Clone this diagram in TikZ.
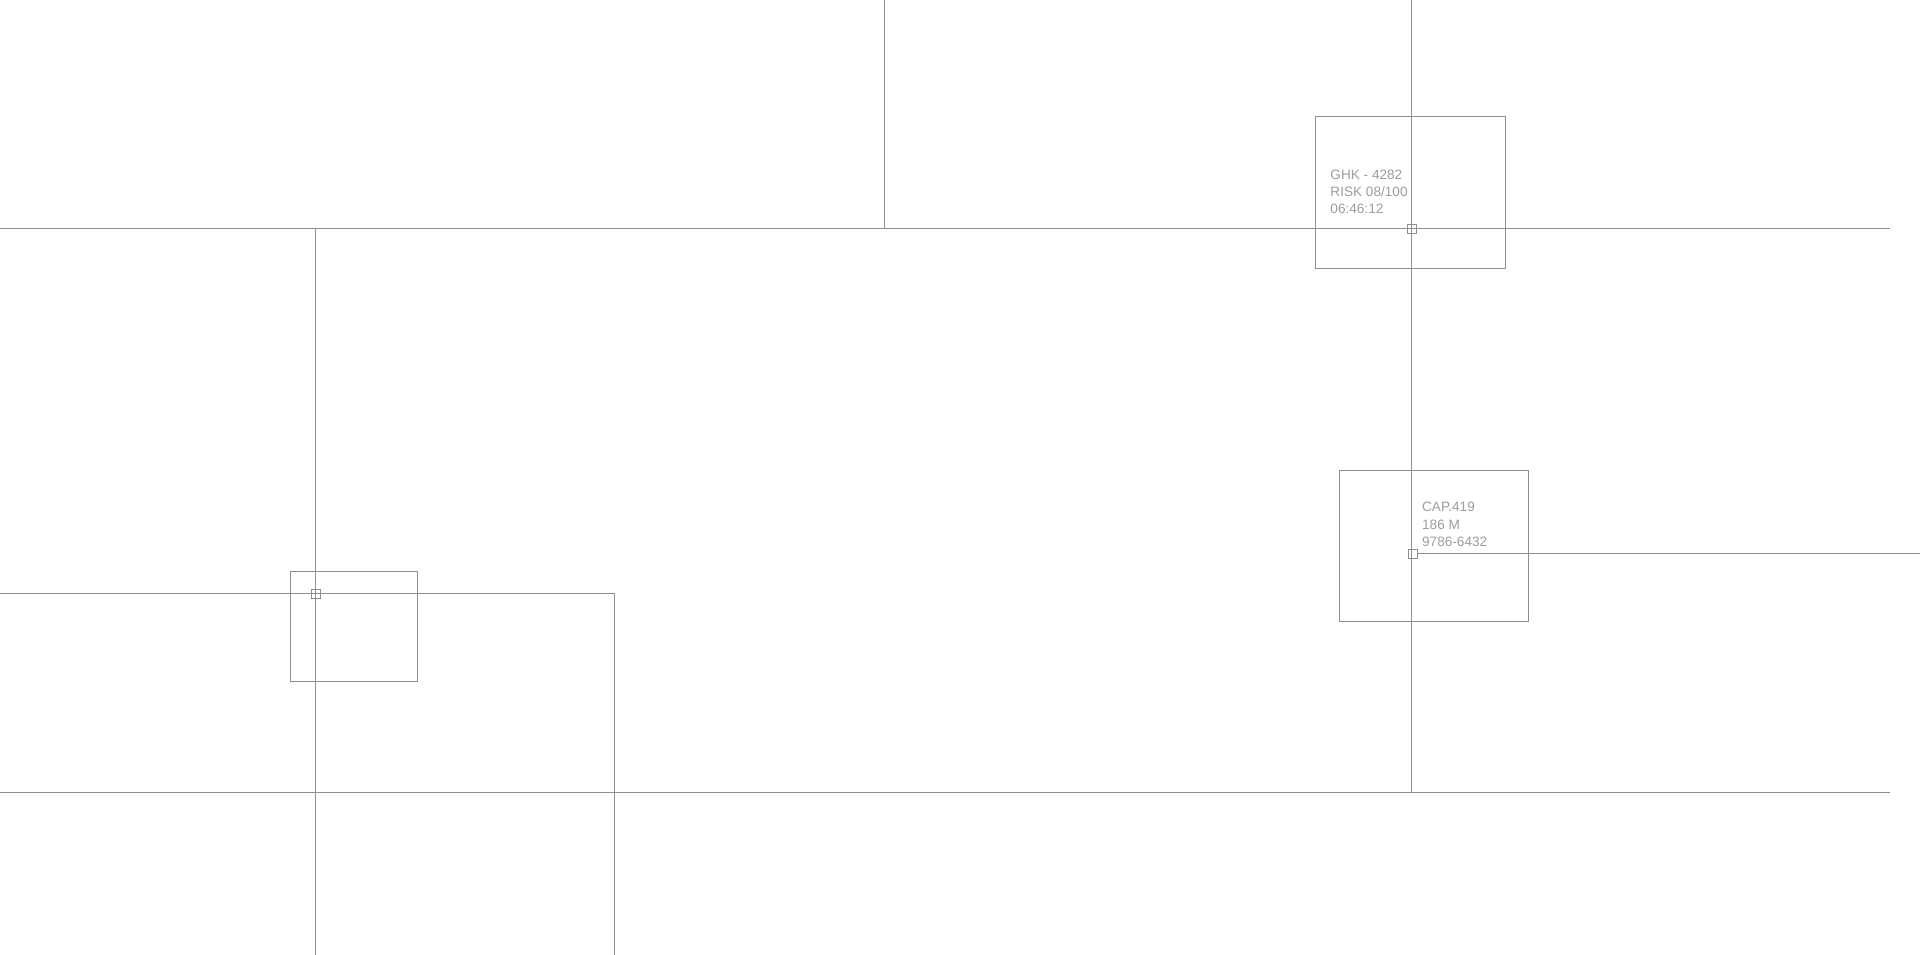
\documentclass[tikz,border=0pt]{standalone}
\usepackage{fontspec}
\setmainfont{Liberation Sans}
\usetikzlibrary{positioning}
\definecolor{gridgray}{HTML}{8E8E8E}
\definecolor{labelgray}{HTML}{9C9C9C}

\begin{document}
\begin{tikzpicture}[x=1pt, y=-1pt, line width=0.9pt,
    grid/.style={draw=gridgray},
    frame/.style={draw=gridgray, rectangle, inner sep=0pt},
    blip/.style={draw=gridgray, rectangle, inner sep=0pt, minimum size=9pt, line width=0.8pt},
    readout/.style={text=labelgray, align=left, inner sep=0pt, anchor=north west, font=\fontsize{13.6}{17.2}\selectfont}]

  \useasboundingbox (0,0) rectangle (1920,955);

  % ends of the grid lines
  \coordinate (upW) at (0,228);
  \coordinate (upE) at (1890,228);
  \coordinate (lowW) at (0,792);
  \coordinate (lowE) at (1890,792);
  \coordinate (midTop) at (884,0);
  \coordinate (midFoot) at (884,228);
  \coordinate (axTop) at (1411.5,0);
  \coordinate (axFoot) at (1411.5,792);
  \coordinate (leftFoot) at (315.5,955);
  \coordinate (leftHead) at (315.5,228);
  \coordinate (hookW) at (0,593.5);
  \coordinate (hookC) at (614,593.5);
  \coordinate (hookS) at (614,955);
  \coordinate (rayE) at (1920,553.5);

  % targets
  \node[frame, minimum width=190pt, minimum height=152pt] (ghk) at (1410,192) {};
  \node[frame, minimum width=189.5pt, minimum height=151pt] (cap) at (1434,546) {};
  \node[frame, minimum width=127pt, minimum height=110pt] (west) at (353.8,626.2) {};

  \node[blip] (b1) at (1411.5,228.5) {};
  \node[blip] (b2) at (1413,553.5) {};
  \node[blip] (b3) at (315.5,593.5) {};

  \node[readout] (t1) at (1330,169.5) {GHK - 4282\\RISK 08/100\\06:46:12};
  \node[readout] (t2) at (1421.7,502) {CAP.419\\186 M\\9786-6432};

  % grid
  \path[grid] (upW) -- (upE);
  \path[grid] (lowW) -- (lowE);
  \path[grid] (midTop) -- (midFoot);
  \path[grid] (axTop) -- (axFoot);
  \path[grid] (leftHead) -- (leftFoot);
  \path[grid] (hookW) -- (hookC) -- (hookS);
  \path[grid] (b2.east) -- (rayE);

\end{tikzpicture}
\end{document}
